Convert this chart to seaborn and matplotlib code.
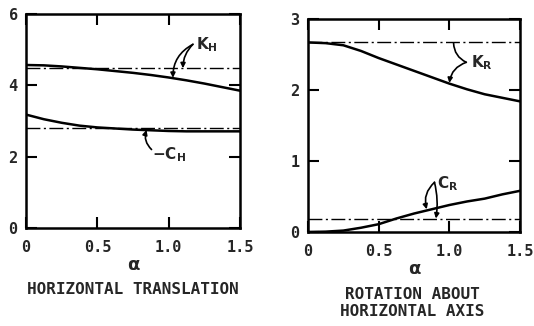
import matplotlib
matplotlib.use("Agg")
import matplotlib.pyplot as plt
import seaborn as sns
import pandas as pd

# ---- data ----
alpha = [0, 0.125, 0.25, 0.375, 0.5, 0.625, 0.75, 0.875, 1.0, 1.125, 1.25, 1.375, 1.5]
KH = [4.57, 4.56, 4.53, 4.49, 4.45, 4.40, 4.35, 4.29, 4.22, 4.14, 4.05, 3.95, 3.85]
KH_static = [4.48] * len(alpha)
CH = [3.18, 3.05, 2.95, 2.87, 2.82, 2.79, 2.76, 2.74, 2.72, 2.71, 2.71, 2.71, 2.71]
CH_static = [2.81] * len(alpha)
KR = [2.67, 2.66, 2.63, 2.55, 2.45, 2.36, 2.27, 2.18, 2.09, 2.01, 1.94, 1.89, 1.84]
KR_static = [2.67] * len(alpha)
CR = [0.0, 0.005, 0.02, 0.06, 0.11, 0.19, 0.26, 0.32, 0.38, 0.43, 0.47, 0.53, 0.58]
CR_static = [0.18] * len(alpha)

xticks = [0, 0.5, 1.0, 1.5]
xtick_labels = ["0", "0.5", "1.0", "1.5"]
yticks_left = [0, 2, 4, 6]
yticks_right = [0, 1, 2, 3]
title_left = "HORIZONTAL TRANSLATION"
title_right = "ROTATION ABOUT\nHORIZONTAL AXIS"

sns.set_style("white")
plt.rcParams["font.family"] = ["DejaVu Sans"]
plt.rcParams["mathtext.fontset"] = "dejavusans"

fig = plt.figure(figsize=(5.34, 3.26), dpi=100)
axL = fig.add_axes([26/534, 1-228/326, 214/534, 214/326])
axR = fig.add_axes([308/534, 1-232/326, 212/534, 213/326])

dashdot = (10, 2.5, 1.5, 2.5)
tick_font = dict(family="DejaVu Sans Mono", weight="bold", size=11)

def style(ax, yticks, ymax):
    ax.set_xlim(0, 1.5)
    ax.set_ylim(0, ymax)
    ax.set_xticks(xticks)
    ax.set_xticklabels(xtick_labels, fontdict=tick_font)
    ax.set_yticks(yticks)
    ax.set_yticklabels([str(t) for t in yticks], fontdict=tick_font)
    ax.tick_params(direction="in", length=8, width=1.5, top=True, right=True,
                   bottom=True, left=True, color="black")
    ax.tick_params(axis="x", pad=9)
    ax.tick_params(axis="y", pad=6)
    for s in ax.spines.values():
        s.set_color("black")
        s.set_linewidth(1.8)
        s.set_visible(True)
    ax.set_xlabel("α", fontsize=13, fontweight="bold", labelpad=0)
    ax.set_ylabel("")

df = pd.DataFrame({"a": alpha, "KH": KH, "KHs": KH_static, "CH": CH, "CHs": CH_static,
                   "KR": KR, "KRs": KR_static, "CR": CR, "CRs": CR_static})

# left panel
sns.lineplot(data=df, x="a", y="KH", ax=axL, color="black", lw=1.8)
sns.lineplot(data=df, x="a", y="CH", ax=axL, color="black", lw=1.8)
sns.lineplot(data=df, x="a", y="KHs", ax=axL, color="black", lw=1.0)
sns.lineplot(data=df, x="a", y="CHs", ax=axL, color="black", lw=1.0)
for ln in axL.lines[2:4]:
    ln.set_dashes(dashdot)
style(axL, yticks_left, 6)

# right panel
sns.lineplot(data=df, x="a", y="KR", ax=axR, color="black", lw=1.8)
sns.lineplot(data=df, x="a", y="CR", ax=axR, color="black", lw=1.8)
sns.lineplot(data=df, x="a", y="KRs", ax=axR, color="black", lw=1.0)
sns.lineplot(data=df, x="a", y="CRs", ax=axR, color="black", lw=1.0)
for ln in axR.lines[2:4]:
    ln.set_dashes(dashdot)
style(axR, yticks_right, 3)

ap = dict(arrowstyle="-|>", color="black", lw=1.2, mutation_scale=7,
          shrinkA=0, shrinkB=0)

# annotations left
axL.text(1.19, 5.13, r"$\mathbf{K_H}$", fontsize=11, va="center", ha="left")
axL.annotate("", xy=(1.03, 4.21), xytext=(1.17, 5.15),
             arrowprops=dict(ap, connectionstyle="arc3,rad=0.3"))
axL.annotate("", xy=(1.10, 4.48), xytext=(1.17, 5.15),
             arrowprops=dict(ap, connectionstyle="arc3,rad=0.2"))
axL.text(0.88, 2.07, r"$\mathbf{-C_H}$", fontsize=11, va="center", ha="left")
axL.annotate("", xy=(0.845, 2.75), xytext=(0.88, 2.2),
             arrowprops=dict(ap, connectionstyle="arc3,rad=-0.3"))

# annotations right
axR.text(1.15, 2.39, r"$\mathbf{K_R}$", fontsize=11, va="center", ha="left")
axR.annotate("", xy=(1.03, 2.66), xytext=(1.12, 2.39),
             arrowprops=dict(ap, arrowstyle="-", connectionstyle="arc3,rad=-0.3"))
axR.annotate("", xy=(1.0, 2.10), xytext=(1.12, 2.39),
             arrowprops=dict(ap, connectionstyle="arc3,rad=0.3"))
axR.text(0.91, 0.68, r"$\mathbf{C_R}$", fontsize=11, va="center", ha="left")
axR.annotate("", xy=(0.84, 0.32), xytext=(0.895, 0.70),
             arrowprops=dict(ap, connectionstyle="arc3,rad=0.3"))
axR.annotate("", xy=(0.905, 0.19), xytext=(0.895, 0.70),
             arrowprops=dict(ap, connectionstyle="arc3,rad=-0.1"))

# titles
fig.text(133/534, 1-290/326, title_left, ha="center", va="center",
         family="DejaVu Sans Mono", weight="bold", fontsize=11.5)
fig.text(412/534, 1-303/326, title_right, ha="center", va="center",
         family="DejaVu Sans Mono", weight="bold", fontsize=11.5, linespacing=1.1)

fig.savefig("out.png", dpi=100)
